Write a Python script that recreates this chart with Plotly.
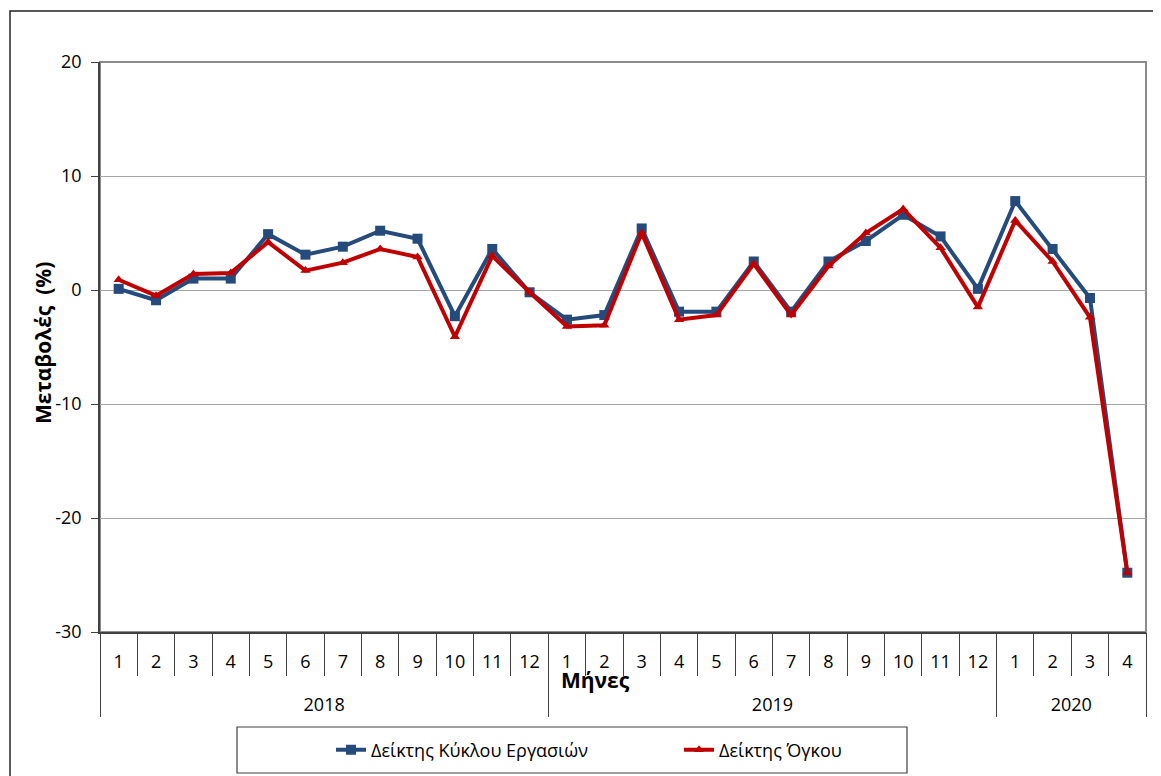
import plotly.graph_objects as go

# ---- data ----
months = ["1", "2", "3", "4", "5", "6", "7", "8", "9", "10", "11", "12",
          "1", "2", "3", "4", "5", "6", "7", "8", "9", "10", "11", "12",
          "1", "2", "3", "4"]
years = ["2018", "2019", "2020"]
year_counts = [12, 12, 4]

turnover = [0.1, -0.9, 1.0, 1.0, 4.9, 3.1, 3.8, 5.2, 4.5, -2.3, 3.6, -0.2,
            -2.6, -2.2, 5.4, -1.9, -1.9, 2.5, -1.9, 2.5, 4.3, 6.6, 4.7, 0.1,
            7.8, 3.6, -0.7, -24.8]
volume = [0.9, -0.5, 1.4, 1.5, 4.2, 1.7, 2.4, 3.6, 2.9, -4.1, 3.0, -0.2,
          -3.2, -3.1, 5.0, -2.6, -2.2, 2.3, -2.2, 2.1, 5.0, 7.1, 3.7, -1.5,
          6.1, 2.5, -2.4, -24.8]
y_ticks = [-30, -20, -10, 0, 10, 20]
y_ticktext = ["-30", "-20", "-10", "0", "10", "20"]

name_turnover = "Δείκτης Κύκλου Εργασιών"
name_volume = "Δείκτης Όγκου"

# ---- derived positions ----
xs = list(range(len(months)))
bounds = [i - 0.5 for i in range(len(months) + 1)]
year_bounds = [-0.5]
year_centers = []
acc = 0
for c in year_counts:
    year_centers.append(acc + (c - 1) / 2)
    acc += c
    year_bounds.append(acc - 0.5)

FONT = "Open Sans"
OFF = 8  # page body margin
W, H = 1161 - OFF, 776 - OFF
L, R, T, B = 100 - OFF, 15, 62 - OFF, 144
PW, PH = W - L - R, H - T - B


def px(xp):  # reference window pixel -> paper x
    return (xp - OFF - L) / PW


def py(yp):  # reference window pixel -> paper y
    return (H - B - (yp - OFF)) / PH


fig = go.Figure()
fig.add_trace(go.Scatter(
    x=xs, y=turnover, name=name_turnover, mode="lines+markers",
    line=dict(color="#254B7D", width=4),
    marker=dict(symbol="square", size=10, color="#254B7D"),
))
fig.add_trace(go.Scatter(
    x=xs, y=volume, name=name_volume, mode="lines+markers",
    line=dict(color="#C00000", width=4),
    marker=dict(symbol="triangle-up", size=9, color="#C00000"),
))

xr = [-0.5, len(months) - 0.5]
fig.update_layout(
    width=W, height=H,
    margin=dict(l=L, r=R, t=T, b=B, autoexpand=False),
    paper_bgcolor="white", plot_bgcolor="white",
    font=dict(family=FONT, size=18, color="black"),
    showlegend=True,
    legend=dict(
        orientation="h", x=px(331), y=py(750), xanchor="left", yanchor="middle",
        font=dict(family=FONT, size=18, color="black"),
        bgcolor="rgba(0,0,0,0)", borderwidth=0,
        entrywidth=303, entrywidthmode="pixels",
    ),
    xaxis=dict(
        range=xr, tickmode="array", tickvals=bounds, showticklabels=False,
        ticks="outside", ticklen=42, tickcolor="#404040", tickwidth=1,
        showline=True, linecolor="#404040", linewidth=1.5,
        showgrid=False, zeroline=False,
    ),
    xaxis2=dict(
        range=xr, overlaying="x", anchor="y", side="bottom",
        tickmode="array", tickvals=xs, ticktext=months, ticks="",
        ticklabelstandoff=17, showline=False, showgrid=False, zeroline=False,
        tickfont=dict(family=FONT, size=18),
    ),
    xaxis3=dict(
        range=xr, overlaying="x", anchor="y", side="bottom",
        tickmode="array", tickvals=year_bounds, showticklabels=False,
        ticks="outside", ticklen=84, tickcolor="#404040", tickwidth=1,
        showline=False, showgrid=False, zeroline=False,
    ),
    xaxis4=dict(
        range=xr, overlaying="x", anchor="y", side="bottom",
        tickmode="array", tickvals=year_centers, ticktext=years, ticks="",
        ticklabelstandoff=60, showline=False, showgrid=False, zeroline=False,
        tickfont=dict(family=FONT, size=18),
    ),
    yaxis=dict(
        range=[y_ticks[0], y_ticks[-1]], tickmode="array", tickvals=y_ticks,
        ticktext=y_ticktext,
        ticks="outside", ticklen=7, tickcolor="#404040",
        showline=True, linecolor="#404040", linewidth=1.5,
        showgrid=True, gridcolor="#A6A6A6", gridwidth=1, zeroline=False,
        ticklabelstandoff=6,
        tickfont=dict(family=FONT, size=18),
    ),
    shapes=[
        dict(type="rect", xref="paper", yref="paper", x0=0, x1=1, y0=0, y1=1,
             line=dict(color="#8C8C8C", width=2), layer="below"),
        dict(type="rect", xref="paper", yref="paper",
             x0=px(10), x1=px(1180), y0=py(795), y1=py(11),
             line=dict(color="#222222", width=1.5)),
        dict(type="rect", xref="paper", yref="paper",
             x0=px(237), x1=px(907), y0=py(773), y1=py(727),
             line=dict(color="#404040", width=1.2)),
    ],
    annotations=[
        dict(text="<b>Μεταβολές  (%)</b>", textangle=-90, xref="paper", yref="paper",
             x=px(43), y=py(343), xanchor="center", yanchor="middle", showarrow=False,
             font=dict(family=FONT, size=21, color="black")),
        dict(text="<b>Μήνες</b>", xref="paper", yref="paper",
             x=px(595), y=py(680), xanchor="center", yanchor="middle", showarrow=False,
             font=dict(family=FONT, size=21, color="black")),
    ],
)

# placeholder traces so the overlay axes render
for ax in ["x2", "x3", "x4"]:
    fig.add_trace(go.Scatter(x=[None], y=[None], xaxis=ax, showlegend=False,
                             hoverinfo="skip"))

fig.write_html("out.html")
